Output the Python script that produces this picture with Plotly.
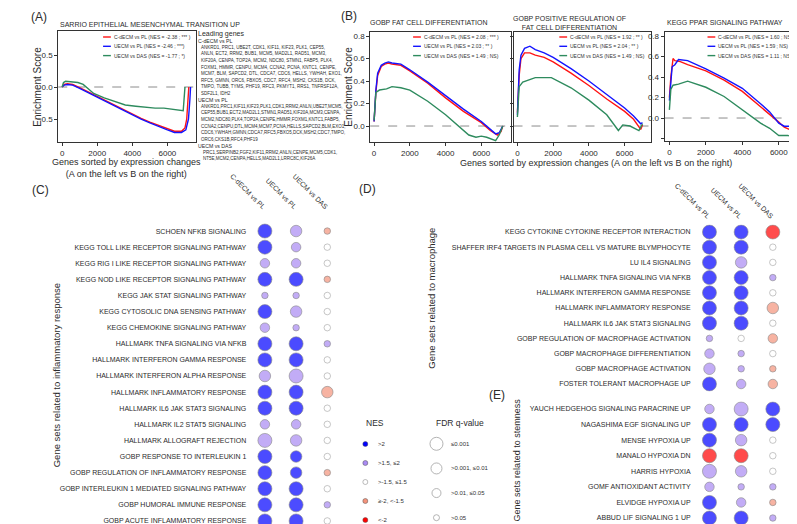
import plotly.graph_objects as go

W, H = 797, 524
FONT = "Liberation Sans, Arial, Helvetica, sans-serif"
TXT = "#2b2b2b"


def X(p):
    return p / W


def Y(p):
    return 1 - p / H


# ---------------------------------------------------------------- data
series_names = ["C-dECM vs PL", "UECM vs PL", "UECM vs DAS"]
series_colors = ["#FF1414", "#1414FF", "#2E8B5E"]

# Panel A  (SARRIO EMT UP)
a_title = "SARRIO EPITHELIAL MESENCHYMAL TRANSITION UP"
a_legend = ["C-dECM vs PL (NES = -2.38 ; *** )", "UECM vs PL (NES = -2.46 ; ***)",
            "UECM vs DAS (NES = -1.77 ; *)"]
a_red_x = [0, 120, 300, 600, 1000, 1500, 2000, 2500, 3000, 3500, 4000, 4500, 5000, 5500, 6000, 6400, 6800, 7000, 7100, 7180, 7220]
a_red_y = [0.0, 0.04, 0.05, 0.04, -0.01, -0.08, -0.15, -0.22, -0.29, -0.36, -0.43, -0.49, -0.55, -0.60, -0.65, -0.69, -0.69, -0.64, -0.50, -0.25, 0.0]
a_blue_x = [0, 120, 300, 600, 1000, 1500, 2000, 2500, 3000, 3500, 4000, 4500, 5000, 5500, 6000, 6400, 6800, 7050, 7200, 7280, 7320]
a_blue_y = [0.0, 0.03, 0.04, 0.03, -0.02, -0.09, -0.16, -0.23, -0.30, -0.37, -0.44, -0.50, -0.56, -0.62, -0.67, -0.71, -0.71, -0.67, -0.50, -0.20, 0.0]
a_green_x = [0, 80, 200, 500, 900, 1200, 1500, 1800, 2400, 3000, 3600, 4200, 4800, 5300, 5800, 6300, 6700, 6900, 6960, 7000]
a_green_y = [0.0, 0.07, 0.09, 0.08, 0.07, 0.04, -0.03, -0.10, -0.17, -0.23, -0.28, -0.30, -0.32, -0.33, -0.33, -0.35, -0.37, -0.37, -0.15, 0.0]

# Panel B1 (GOBP FAT CELL DIFFERENTIATION)
b1_title = "GOBP FAT CELL DIFFERENTIATION"
b1_legend = ["C-dECM vs PL (NES = 2.08 ; *** )", "UECM vs PL (NES = 2.03 ; ** )",
             "UECM vs DAS (NES = 1.49 ; NS)"]
b1_red_x = [0, 100, 200, 400, 600, 800, 1000, 1500, 2000, 3000, 4000, 5000, 6000, 6500, 6900, 7100, 7200]
b1_red_y = [0.04, 0.30, 0.45, 0.53, 0.55, 0.56, 0.55, 0.54, 0.49, 0.38, 0.25, 0.13, 0.03, -0.04, -0.08, -0.05, 0.0]
b1_blue_x = [0, 100, 200, 400, 600, 800, 1000, 1500, 2000, 3000, 4000, 5000, 6000, 6500, 6800, 7000, 7200]
b1_blue_y = [0.04, 0.32, 0.47, 0.54, 0.56, 0.57, 0.56, 0.55, 0.50, 0.39, 0.27, 0.15, 0.04, -0.03, -0.07, -0.06, 0.0]
b1_green_x = [0, 100, 300, 700, 1000, 1500, 2000, 3000, 4000, 4700, 5300, 5700, 6000, 6300, 6800, 7000, 7200]
b1_green_y = [0.05, 0.30, 0.32, 0.33, 0.35, 0.34, 0.32, 0.22, 0.10, 0.0, -0.08, -0.10, -0.09, -0.10, -0.13, -0.08, 0.0]

# Panel B2 (GOBP POSITIVE REGULATION OF FAT CELL DIFFERENTIATION)
b2_title = "GOBP POSITIVE REGULATION OF<br>FAT CELL DIFFERENTIATION"
b2_legend = ["C-dECM vs PL (NES = 1.92 ; ** )", "UECM vs PL (NES = 2.04 ; ** )",
             "UECM vs DAS (NES = 1.49 ; NS)"]
b2_red_x = [0, 100, 200, 400, 700, 1000, 1500, 2000, 3000, 4000, 5000, 6000, 6500, 6900, 7000]
b2_red_y = [0.12, 0.45, 0.60, 0.65, 0.65, 0.63, 0.61, 0.57, 0.47, 0.36, 0.24, 0.13, 0.06, -0.03, 0.01]
b2_blue_x = [0, 100, 200, 400, 700, 1000, 1500, 2000, 3000, 4000, 5000, 6000, 6500, 6900, 7000]
b2_blue_y = [0.10, 0.50, 0.63, 0.69, 0.71, 0.68, 0.65, 0.61, 0.51, 0.40, 0.28, 0.16, 0.09, 0.02, 0.03]
b2_green_x = [0, 100, 300, 600, 1000, 1500, 1900, 3000, 4000, 5000, 5500, 5650, 5900, 6300, 6800, 6950, 7000]
b2_green_y = [0.08, 0.35, 0.39, 0.41, 0.43, 0.43, 0.43, 0.34, 0.23, 0.10, 0.0, -0.04, 0.01, 0.0, -0.04, 0.0, 0.02]

# Panel B3 (KEGG PPAR SIGNALING PATHWAY)
b3_title = "KEGG PPAR SIGNALING PATHWAY"
b3_legend = ["C-dECM vs PL (NES = 1.60 ; NS )", "UECM vs PL (NES = 1.59 ; NS)",
             "UECM vs DAS (NES = 1.11 ; NS)"]
b3_red_x = [0, 80, 200, 300, 600, 1000, 2000, 3000, 4000, 5000, 5500, 6000, 6300, 6700, 6900, 7100, 7250]
b3_red_y = [0.20, 0.40, 0.58, 0.56, 0.55, 0.52, 0.46, 0.37, 0.26, 0.11, 0.04, -0.04, -0.09, -0.12, -0.11, -0.08, 0.0]
b3_blue_x = [0, 80, 150, 300, 500, 1000, 2000, 3000, 4000, 5000, 5500, 6000, 6300, 6700, 7000, 7150, 7300]
b3_blue_y = [0.17, 0.35, 0.50, 0.52, 0.57, 0.56, 0.48, 0.39, 0.29, 0.14, 0.06, -0.05, -0.08, -0.08, -0.07, -0.04, 0.03]
b3_green_x = [0, 80, 200, 500, 1000, 1500, 2000, 3000, 4000, 4500, 5000, 5500, 6000, 6500, 6800, 7000, 7150]
b3_green_y = [0.08, 0.28, 0.32, 0.33, 0.36, 0.33, 0.30, 0.21, 0.08, 0.02, -0.05, -0.10, -0.17, -0.17, -0.19, -0.18, 0.0]

gsea_xticks = [0, 2000, 4000, 6000]

# Leading genes (panel A)
lead_title = "Leading genes"
lead_cdecm = ["ANKRD1, PRC1, UBE2T, CDK1, KIF11, KIF23, PLK1, CEP55,",
              "ANLN, ECT2, RRM2, BUB1, MCM5, MAD2L1, RAD51, MCM3,",
              "KIF20A, CENPA, TOP2A, MCM2, NDC80, STMN1, FABP5, PLK4,",
              "FOXM1, HMMR, CENPU, MCM4, CCNA2, PCNA, KNTC1, CENPE,",
              "MCM7, BLM, SAPCD2, DTL, CDCA7, CDC6, HELLS, YWHAH, EXO1,",
              "RFC5, GMNN, ORC6, FBXO5, CDC7, RFC4, MSH2, CKS1B, DCK,",
              "TMPO, TUBB, TYMS, PHF19, RFC3, PKMYT1, RRS1, TNFRSF12A,",
              "SDF2L1, IDH2"]
lead_uecm_pl = ["ANKRD1,PRC1,KIF11,KIF23,PLK1,CDK1,RRM2,ANLN,UBE2T,MCM5,",
                "CEP55,BUB1,ECT2,MAD2L1,STMN1,RAD51,KIF20A,MCM3,CENPA,",
                "MCM2,NDC80,PLK4,TOP2A,CENPE,HMMR,FOXM1,KNTC1,FABP5,",
                "CCNA2,CENPU,DTL,MCM4,MCM7,PCNA,HELLS,SAPCD2,BLM,EXO1,",
                "CDC6,YWHAH,GMNN,CDCA7,RFC5,FBXO5,DCK,MSH2,CDC7,TMPO,",
                "ORC6,CKS1B,RFC4,PHF19"]
lead_uecm_das = ["PRC1,SERPINB2,FGF2,KIF11,RRM2,ANLN,CENPE,MCM5,CDK1,",
                 "NT5E,MCM2,CENPA,HELLS,MAD2L1,LRRC8C,KIF26A"]

# Dot plots: NES class (0:>2, 1:>1.5<=2, 2:>-1.5<=1.5, 3:>=-2<-1.5, 4:<-2)
# FDR class (0:<=0.001, 1:>0.001<=0.01, 2:>0.01<=0.05, 3:>0.05)
nes_labels = [">2", ">1.5, \u22642", ">-1.5, \u22641.5", "\u2265-2, <-1.5", "<-2"]
nes_colors = ["#0000FF", "#A98AF3", "#FFFFFF", "#F4937B", "#FF0000"]
fdr_labels = ["\u22640.001", ">0.001, \u22640.01", ">0.01, \u22640.05", ">0.05"]
fdr_sizes = [14, 11.5, 9.5, 6.5]

c_sets = ["SCHOEN NFKB SIGNALING",
          "KEGG TOLL LIKE RECEPTOR SIGNALING PATHWAY",
          "KEGG RIG I LIKE RECEPTOR SIGNALING PATHWAY",
          "KEGG NOD LIKE RECEPTOR SIGNALING PATHWAY",
          "KEGG JAK STAT SIGNALING PATHWAY",
          "KEGG CYTOSOLIC DNA SENSING PATHWAY",
          "KEGG CHEMOKINE SIGNALING PATHWAY",
          "HALLMARK TNFA SIGNALING VIA NFKB",
          "HALLMARK INTERFERON GAMMA RESPONSE",
          "HALLMARK INTERFERON ALPHA RESPONSE",
          "HALLMARK INFLAMMATORY RESPONSE",
          "HALLMARK IL6 JAK STAT3 SIGNALING",
          "HALLMARK IL2 STAT5 SIGNALING",
          "HALLMARK ALLOGRAFT REJECTION",
          "GOBP RESPONSE TO INTERLEUKIN 1",
          "GOBP REGULATION OF INFLAMMATORY RESPONSE",
          "GOBP INTERLEUKIN 1 MEDIATED SIGNALING PATHWAY",
          "GOBP HUMORAL IMMUNE RESPONSE",
          "GOBP ACUTE INFLAMMATORY RESPONSE"]
c_nes = [[0, 1, 3], [0, 1, 2], [1, 1, 2], [0, 0, 3], [1, 1, 2], [0, 1, 2], [1, 1, 2], [0, 0, 1], [0, 0, 2],
         [1, 1, 2], [0, 0, 3], [0, 0, 2], [1, 1, 2], [1, 1, 2], [0, 0, 2], [0, 0, 3], [0, 0, 2], [0, 0, 1], [0, 0, 2]]
c_fdr = [[0, 1, 3], [0, 2, 3], [2, 2, 3], [0, 0, 3], [3, 3, 3], [0, 1, 3], [2, 3, 3], [0, 0, 3], [0, 0, 3],
         [1, 0, 3], [0, 0, 1], [0, 0, 3], [2, 2, 3], [0, 1, 3], [0, 1, 3], [0, 1, 3], [0, 0, 3], [0, 0, 3], [0, 0, 3]]

d_sets = ["KEGG CYTOKINE CYTOKINE RECEPTOR INTERACTION",
          "SHAFFER IRF4 TARGETS IN PLASMA CELL VS MATURE BLYMPHOCYTE",
          "LU IL4 SIGNALING",
          "HALLMARK TNFA SIGNALING VIA NFKB",
          "HALLMARK INTERFERON GAMMA RESPONSE",
          "HALLMARK INFLAMMATORY RESPONSE",
          "HALLMARK IL6 JAK STAT3 SIGNALING",
          "GOBP REGULATION OF MACROPHAGE ACTIVATION",
          "GOBP MACROPHAGE DIFFERENTIATION",
          "GOBP MACROPHAGE ACTIVATION",
          "FOSTER TOLERANT MACROPHAGE UP"]
d_nes = [[0, 0, 4], [0, 0, 2], [0, 1, 2], [0, 0, 1], [0, 0, 2], [0, 0, 3], [0, 0, 2], [1, 2, 3], [1, 1, 2],
         [1, 1, 3], [0, 1, 3]]
d_fdr = [[0, 0, 0], [0, 0, 3], [0, 1, 3], [0, 0, 3], [0, 0, 3], [0, 0, 1], [0, 0, 3], [3, 3, 2], [2, 3, 3],
         [1, 3, 3], [0, 2, 2]]

e_sets = ["YAUCH HEDGEHOG SIGNALING PARACRINE UP",
          "NAGASHIMA EGF SIGNALING UP",
          "MENSE HYPOXIA UP",
          "MANALO HYPOXIA DN",
          "HARRIS HYPOXIA",
          "GOMF ANTIOXIDANT ACTIVITY",
          "ELVIDGE HYPOXIA UP",
          "ABBUD LIF SIGNALING 1 UP"]
e_nes = [[1, 1, 0], [0, 0, 0], [0, 1, 2], [4, 4, 2], [1, 1, 2], [1, 1, 1], [0, 1, 3], [0, 0, 1]]
e_fdr = [[2, 0, 0], [0, 0, 0], [0, 1, 3], [0, 0, 3], [0, 1, 3], [2, 3, 3], [0, 2, 3], [0, 0, 3]]

# ---------------------------------------------------------------- figure
fig = go.Figure()
layout = dict(width=W, height=H, margin=dict(l=0, r=0, t=0, b=0), paper_bgcolor="white",
              plot_bgcolor="white", showlegend=False, font=dict(family=FONT, color=TXT))
annotations = []
shapes = []


def ax_names(i):
    s = "" if i == 1 else str(i)
    return "xaxis" + s, "yaxis" + s, "x" + s, "y" + s


def ann(x, y, text, size, xanchor="center", yanchor="middle", angle=0, align="left", color=TXT, xref="paper", yref="paper"):
    annotations.append(dict(x=x, y=y, xref=xref, yref=yref, text=text, showarrow=False,
                            xanchor=xanchor, yanchor=yanchor, textangle=angle, align=align, borderpad=0,
                            font=dict(family=FONT, size=size, color=color)))


gsea = [
    dict(i=1, box=(31, 172, 23, 134), xr=[-222, 7611], yr=[-0.859, 0.875], yt=[-0.5, 0, 0.5], ytt=None, showy=True,
         curves=[(a_red_x, a_red_y), (a_blue_x, a_blue_y), (a_green_x, a_green_y)], legend=a_legend,
         leg_x=77, title=a_title),
    dict(i=2, box=(351, 495, 24, 134), xr=[-218, 7637], yr=[-0.142, 0.836], yt=[0, 0.2, 0.4, 0.6, 0.8], ytt=None, showy=True,
         curves=[(b1_red_x, b1_red_y), (b1_blue_x, b1_blue_y), (b1_green_x, b1_green_y)], legend=b1_legend,
         leg_x=395, title=b1_title),
    dict(i=3, box=(498, 639, 24, 134), xr=[-218, 7474], yr=[-0.142, 0.836], yt=[0, 0.2, 0.4, 0.6, 0.8], ytt=None, showy=False,
         curves=[(b2_red_x, b2_red_y), (b2_blue_x, b2_blue_y), (b2_green_x, b2_green_y)], legend=b2_legend,
         leg_x=545, title=b2_title),
    dict(i=4, box=(653, 796, 24, 133), xr=[-262, 7385], yr=[-0.224, 0.839], yt=[-0.2, 0, 0.2, 0.4, 0.6, 0.8],
         ytt=["", "0.0", "0.2", "0.4", "0.6", "0.8"], showy=True,
         curves=[(b3_red_x, b3_red_y), (b3_blue_x, b3_blue_y), (b3_green_x, b3_green_y)], legend=b3_legend,
         leg_x=697, title=b3_title),
]

for g in gsea:
    xa, ya, xr_, yr_ = ax_names(g["i"])
    l, r, t, b = g["box"]
    layout[xa] = dict(domain=[X(l), X(r)], range=g["xr"], anchor=yr_, tickvals=gsea_xticks, ticks="outside",
                      ticklen=3, tickwidth=1, tickcolor="#333", showline=True, linecolor="#333", linewidth=1,
                      mirror=True, showgrid=False, zeroline=False, tickfont=dict(size=8, color=TXT))
    yd = dict(domain=[Y(b), Y(t)], range=g["yr"], anchor=xr_, tickvals=g["yt"], ticks="outside",
              ticklen=3, tickwidth=1, tickcolor="#333", showline=True, linecolor="#333", linewidth=1,
              mirror=True, showgrid=False, zeroline=False, tickfont=dict(size=8, color=TXT),
              showticklabels=g["showy"])
    if g["ytt"] is None:
        yd["tickformat"] = ".1f"
    else:
        yd["ticktext"] = g["ytt"]
    layout[ya] = yd
    shapes.append(dict(type="line", xref=xr_ + " domain", yref=yr_, x0=0, x1=1, y0=0, y1=0, layer="below",
                       line=dict(color="#8c8c8c", width=1, dash="dash")))
    for k, (cx, cy) in enumerate(g["curves"]):
        fig.add_trace(go.Scatter(x=cx, y=cy, mode="lines", xaxis=xr_, yaxis=yr_, name=series_names[k],
                                 line=dict(color=series_colors[k], width=1.4), hoverinfo="skip"))
    # in-plot legend
    for k, txt in enumerate(g["legend"]):
        yy = 29 + 9.3 * k
        shapes.append(dict(type="line", xref="paper", yref="paper", x0=X(g["leg_x"]), x1=X(g["leg_x"] + 8),
                           y0=Y(yy), y1=Y(yy), line=dict(color=series_colors[k], width=1.4)))
        ann(X(g["leg_x"] + 10), Y(yy), txt, 5, xanchor="left", color="#333")

# GSEA titles
ann(X(32), Y(16), a_title, 7, xanchor="left")
ann(X(350), Y(15), b1_title, 7, xanchor="left")
ann(X(555), Y(14.5), b2_title, 7, xanchor="center", align="center")
ann(X(654), Y(15), b3_title, 7, xanchor="left")
# axis titles
ann(X(10), Y(79), "Enrichment Score", 10, angle=-90)
ann(X(329), Y(79), "Enrichment Score", 10, angle=-90)
ann(X(101), Y(160), "Genes sorted by expression changes<br>(A on the left vs B on the right)", 9, align="center")
ann(X(583), Y(155), "Genes sorted by expression changes (A on the left vs B on the right)", 9)

# Leading genes
ann(X(173), Y(26), lead_title, 7, xanchor="left")
yy = 33
ann(X(173), Y(yy), "C-dECM vs PL", 5.2, xanchor="left")
for line in lead_cdecm:
    yy += 6.5
    ann(X(176), Y(yy), line, 4.5, xanchor="left")
yy += 7
ann(X(173), Y(yy), "UECM vs PL", 5.2, xanchor="left")
for line in lead_uecm_pl:
    yy += 6.5
    ann(X(176), Y(yy), line, 4.5, xanchor="left")
yy += 6.8
ann(X(173), Y(yy), "UECM vs DAS", 5.2, xanchor="left")
for line in lead_uecm_das:
    yy += 6.6
    ann(X(178), Y(yy), line, 4.5, xanchor="left")

# panel labels
ann(X(2), Y(9), "(A)", 12, xanchor="left")
ann(X(320), Y(8), "(B)", 12, xanchor="left")
ann(X(3), Y(182), "(C)", 12, xanchor="left")
ann(X(338), Y(181), "(D)", 12, xanchor="left")
ann(X(472), Y(387), "(E)", 12, xanchor="left")

# ---------------------------------------------------------------- dot plots
dots = [
    dict(i=5, sets=c_sets, nes=c_nes, fdr=c_fdr, xd=(227, 323), yd=(215, 521), header=True, standoff=10),
    dict(i=6, sets=d_sets, nes=d_nes, fdr=d_fdr, xd=(682.75, 780.25), yd=(216.4, 383.6), header=True, standoff=2),
    dict(i=7, sets=e_sets, nes=e_nes, fdr=e_fdr, xd=(682.75, 780.25), yd=(393.2, 517.8), header=False, standoff=0),
]
for d in dots:
    xa, ya, xr_, yr_ = ax_names(d["i"])
    n = len(d["sets"])
    xs, ys, cols, sizes, lcols = [], [], [], [], []
    for r, name in enumerate(d["sets"]):
        for c in range(3):
            xs.append(series_names[c])
            ys.append(name)
            cols.append(nes_colors[d["nes"][r][c]])
            sizes.append(fdr_sizes[d["fdr"][r][c]])
            lcols.append("#7a7a7a" if d["nes"][r][c] == 2 else "#555555")
    fig.add_trace(go.Scatter(x=xs, y=ys, mode="markers", xaxis=xr_, yaxis=yr_, hoverinfo="skip",
                             marker=dict(color=cols, size=sizes, line=dict(color=lcols, width=0.6))))
    xd = dict(domain=[X(d["xd"][0]), X(d["xd"][1])], range=[-0.5, 2.5], anchor=yr_, type="category",
              categoryorder="array", categoryarray=series_names, showgrid=False, zeroline=False,
              showline=False, ticks="", side="top")
    if d["header"]:
        xd.update(tickangle=45, tickfont=dict(size=7, color=TXT), ticklabelstandoff=d["standoff"])
    else:
        xd.update(showticklabels=False)
    layout[xa] = xd
    layout[ya] = dict(domain=[max(0, Y(d["yd"][1])), Y(d["yd"][0])], range=[n - 0.5, -0.5], anchor=xr_,
                      type="category", categoryorder="array", categoryarray=d["sets"], showgrid=False,
                      zeroline=False, showline=False, ticks="", tickfont=dict(size=7, color=TXT),
                      ticklabelstandoff=2)

ann(X(29), Y(367), "Gene sets related to inflammatory response", 9.5, angle=-90)
ann(X(413), Y(290), "Gene sets related to macrophage", 9.5, angle=-90)
ann(X(502), Y(452), "Gene sets related to stemness", 9, angle=-90)

# ---------------------------------------------------------------- legends for dot plots
# NES legend
fig.add_trace(go.Scatter(x=[6] * len(nes_labels), y=nes_labels, mode="markers", xaxis="x8", yaxis="y8",
                         hoverinfo="skip",
                         marker=dict(color=nes_colors, size=5,
                                     line=dict(color=["#555", "#555", "#7a7a7a", "#555", "#555"], width=0.5))))
layout["xaxis8"] = dict(domain=[X(340), X(400)], range=[0, 60], anchor="y8", visible=False)
layout["yaxis8"] = dict(domain=[Y(521.5), Y(426.5)], range=[4.5, -0.5], anchor="x8", type="category",
                        categoryorder="array", categoryarray=nes_labels, visible=False)
for lab in nes_labels:
    ann(18, lab, lab, 6, xanchor="left", xref="x8", yref="y8", color="#333")
ann(X(356), Y(415), "NES", 8.5)

# FDR legend
fdr_leg_sizes = [13, 11, 9, 6]
fig.add_trace(go.Scatter(x=[9] * len(fdr_labels), y=fdr_labels, mode="markers", xaxis="x9", yaxis="y9",
                         hoverinfo="skip",
                         marker=dict(color="white", size=fdr_leg_sizes, line=dict(color="#7a7a7a", width=0.8))))
layout["xaxis9"] = dict(domain=[X(410), X(480)], range=[0, 70], anchor="y9", visible=False)
layout["yaxis9"] = dict(domain=[Y(522), Y(423.5)], range=[3.5, -0.5], anchor="x9", type="category",
                        categoryorder="array", categoryarray=fdr_labels, visible=False)
for lab in fdr_labels:
    ann(23, lab, lab, 6, xanchor="left", xref="x9", yref="y9", color="#333")
ann(X(443), Y(415), "FDR q-value", 8.5)

layout["annotations"] = annotations
layout["shapes"] = shapes
fig.update_layout(**layout)
fig.write_html("out.html")
